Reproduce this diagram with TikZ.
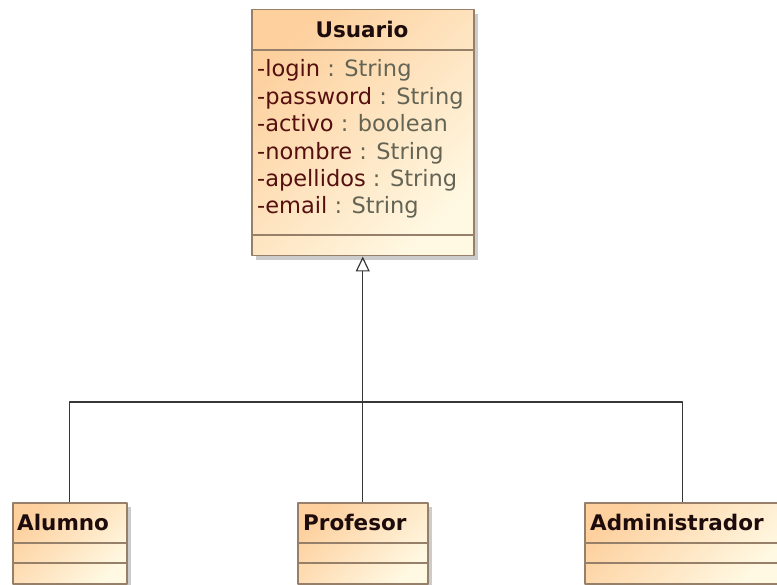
\documentclass[tikz,border=0pt]{standalone}
\usepackage{fontspec}
\setmainfont{DejaVu Sans}
\usetikzlibrary{arrows.meta,shadows}

\definecolor{umlborder}{RGB}{150,128,105}
\definecolor{umlfillA}{RGB}{253,208,158}
\definecolor{umlfillB}{RGB}{255,248,226}
\definecolor{attrname}{RGB}{85,15,15}
\definecolor{attrtype}{RGB}{100,100,85}
\definecolor{titletxt}{RGB}{30,12,12}
\definecolor{linkgray}{RGB}{55,55,55}

\tikzset{
  classbox/.style={draw=umlborder, line width=1.5pt, inner sep=0pt, anchor=north west,
    top color=umlfillA, bottom color=umlfillB, shading angle=45,
    drop shadow={shadow xshift=4pt, shadow yshift=-4pt, fill=black!40, opacity=.5},
    minimum height=81pt},
  sepline/.style={draw=umlborder, line width=1.5pt},
  classname/.style={font=\fontsize{21.5}{26}\selectfont\bfseries, text=titletxt, inner sep=0pt},
  attr/.style={font=\fontsize{22.5}{27.4}\selectfont, text=attrtype, inner sep=0pt, anchor=base west},
  link/.style={draw=linkgray, line width=1.2pt},
}

\begin{document}
\begin{tikzpicture}[x=1pt,y=-1pt,line join=round]
\path[use as bounding box, clip] (0,0) rectangle (777,585);

% superclase
\node[classbox, minimum width=222pt, minimum height=246pt] (usuario) at (251,9) {};
\draw[sepline] (251,50)--(473,50) (251,235)--(473,235);
\node[classname] (usuario-name) at (362,29.5) {Usuario};
\foreach \n/\t [count=\i from 0] in {login/String, password/String, activo/boolean,
    nombre/String, apellidos/String, email/String}
  \node[attr] (attr-\n) at (257,77+27.4*\i) {\textcolor{attrname}{-\n} : \t};

% subclases
\node[classbox, minimum width=114pt] (alumno) at (12,502) {};
\node[classbox, minimum width=130pt] (profesor) at (297,502) {};
\node[classbox, minimum width=196pt] (admin) at (584,502) {};
\foreach \c in {alumno,profesor,admin}
  \draw[sepline] ([yshift=-41pt]\c.north west)--([yshift=-41pt]\c.north east)
    ([yshift=-61pt]\c.north west)--([yshift=-61pt]\c.north east);
\node[classname, anchor=west] (alumno-name) at ([xshift=5pt,yshift=-20.5pt]alumno.north west) {Alumno};
\node[classname, anchor=west] (profesor-name) at ([xshift=6pt,yshift=-20.5pt]profesor.north west) {Profesor};
\node[classname, anchor=west] (admin-name) at ([xshift=6pt,yshift=-20.5pt]admin.north west) {Administrador};

% herencia
\coordinate (bus) at (362,402);
\draw[link] (alumno.north) |- (bus) -| (admin.north);
\draw[link,-{Triangle[open,width=14pt,length=15pt]}] (profesor.north) -- (usuario.south);
\end{tikzpicture}
\end{document}
